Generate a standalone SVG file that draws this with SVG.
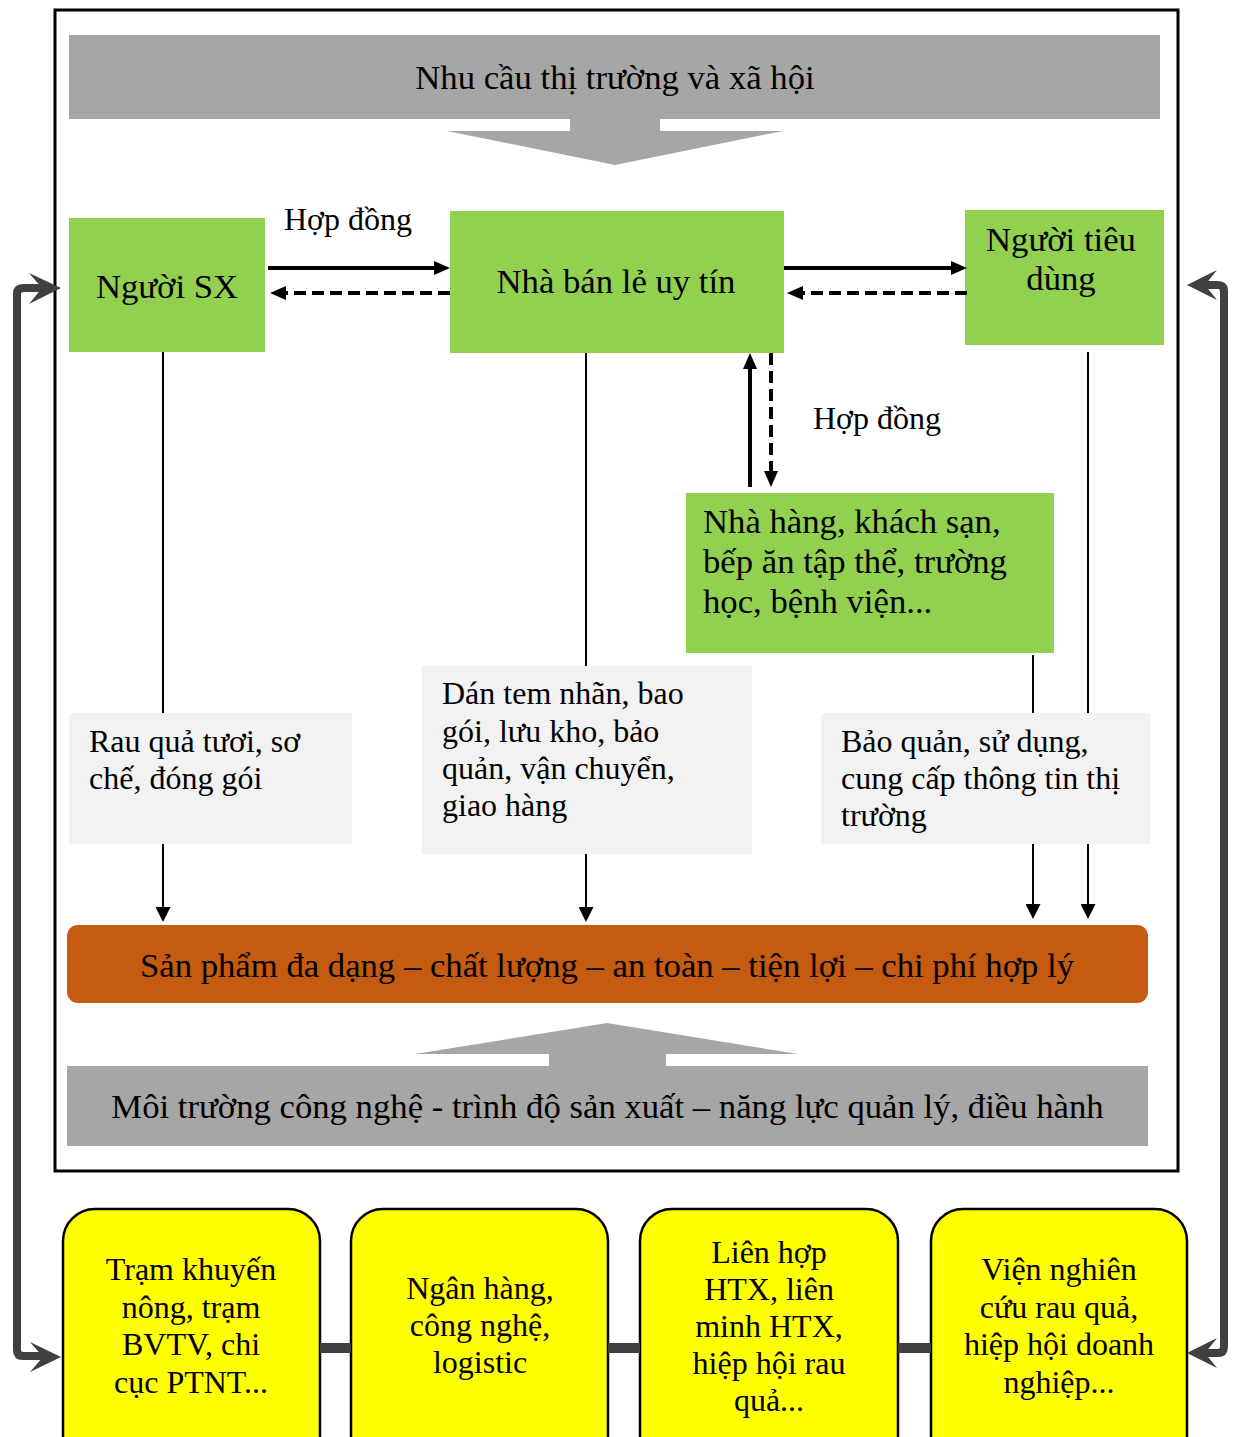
<svg xmlns="http://www.w3.org/2000/svg" width="1233" height="1437" viewBox="0 0 1233 1437">
  <style>
    text { font-family: "Liberation Serif", "Times New Roman", serif; fill: #000; }
    .big { font-size: 34.7px; }
    .mid { font-size: 32px; }
    .c { text-anchor: middle; }
    .green { fill: #92d050; }
    .note { fill: #f2f2f2; }
    .band { fill: #a6a6a6; }
    .yellow { fill: #ffff00; stroke: #000; stroke-width: 2.5; }
    .solid { stroke: #000; stroke-width: 4; fill: none; }
    .dash { stroke: #000; stroke-width: 4; fill: none; stroke-dasharray: 12 6; }
    .thin { stroke: #000; stroke-width: 2; fill: none; }
    .loop { stroke: #404040; stroke-width: 8; fill: none; }
    .link { stroke: #404040; stroke-width: 10; }
    .loophead { fill: #404040; }
  </style>
  <defs>
    <marker id="head" markerUnits="userSpaceOnUse" markerWidth="16" markerHeight="14" refX="4" refY="7" orient="auto">
      <path d="M0,0 L16,7 L0,14 z" fill="#000"/>
    </marker>
    <marker id="headThin" markerUnits="userSpaceOnUse" markerWidth="15" markerHeight="15" refX="3" refY="7.5" orient="auto">
      <path d="M0,0 L15,7.5 L0,15 z" fill="#000"/>
    </marker>
  </defs>

  <rect width="1233" height="1437" fill="#fff"/>

  <!-- outer frame -->
  <rect x="55" y="10" width="1123" height="1161" fill="none" stroke="#000" stroke-width="3"/>

  <!-- top band with downward arrow -->
  <g id="market-demand">
    <rect class="band" x="69" y="35" width="1091" height="84"/>
    <polygon class="band" points="570,119 660,119 660,131 783,131 615,165 447,131 570,131"/>
    <text class="big c" x="615" y="89">Nhu cầu thị trường và xã hội</text>
  </g>

  <!-- main actors -->
  <g id="producer">
    <rect class="green" x="69" y="218" width="196" height="134"/>
    <text class="big c" x="167" y="298">Người SX</text>
  </g>
  <g id="retailer">
    <rect class="green" x="450" y="211" width="334" height="142"/>
    <text class="big c" x="616" y="293">Nhà bán lẻ uy tín</text>
  </g>
  <g id="consumer">
    <rect class="green" x="965" y="210" width="199" height="135"/>
    <text class="big c" x="1061" y="251">Người tiêu</text>
    <text class="big c" x="1061" y="290">dùng</text>
  </g>
  <g id="institutions">
    <rect class="green" x="686" y="493" width="368" height="160"/>
    <text class="big" x="703" y="533">Nhà hàng, khách sạn,</text>
    <text class="big" x="703" y="573">bếp ăn tập thể, trường</text>
    <text class="big" x="703" y="613">học, bệnh viện...</text>
  </g>

  <!-- activity notes -->
  <g id="note-fresh">
    <rect class="note" x="69" y="713" width="283" height="131"/>
    <text class="mid" x="89" y="752">Rau quả tươi, sơ</text>
    <text class="mid" x="89" y="789">chế, đóng gói</text>
  </g>
  <g id="note-logistics">
    <rect class="note" x="422" y="666" width="330" height="188"/>
    <text class="mid" x="442" y="704">Dán tem nhãn, bao</text>
    <text class="mid" x="442" y="742">gói, lưu kho, bảo</text>
    <text class="mid" x="442" y="779">quản, vận chuyển,</text>
    <text class="mid" x="442" y="816">giao hàng</text>
  </g>
  <g id="note-usage">
    <rect class="note" x="821" y="713" width="329" height="131"/>
    <text class="mid" x="841" y="752">Bảo quản, sử dụng,</text>
    <text class="mid" x="841" y="789">cung cấp thông tin thị</text>
    <text class="mid" x="841" y="826">trường</text>
  </g>

  <!-- product outcome -->
  <g id="product">
    <rect x="67" y="925" width="1081" height="78" rx="11" fill="#c55a11"/>
    <text class="big c" x="607" y="977">Sản phẩm đa dạng – chất lượng – an toàn – tiện lợi – chi phí hợp lý</text>
  </g>

  <!-- bottom band with upward arrow -->
  <g id="environment">
    <polygon class="band" points="549,1066 549,1054 415,1054 607,1023 798,1054 666,1054 666,1066"/>
    <rect class="band" x="67" y="1066" width="1081" height="80"/>
    <text class="big c" x="607.5" y="1118">Môi trường công nghệ - trình độ sản xuất – năng lực quản lý, điều hành</text>
  </g>

  <!-- support organisations -->
  <g id="extension">
    <rect class="yellow" x="63" y="1209" width="257" height="260" rx="32"/>
    <text class="mid c" x="191" y="1280">Trạm khuyến</text>
    <text class="mid c" x="191" y="1318">nông, trạm</text>
    <text class="mid c" x="191" y="1355">BVTV, chi</text>
    <text class="mid c" x="191" y="1393">cục PTNT...</text>
  </g>
  <g id="bank">
    <rect class="yellow" x="351" y="1209" width="257" height="260" rx="32"/>
    <text class="mid c" x="480" y="1299">Ngân hàng,</text>
    <text class="mid c" x="480" y="1336">công nghệ,</text>
    <text class="mid c" x="480" y="1373">logistic</text>
  </g>
  <g id="cooperatives">
    <rect class="yellow" x="640" y="1209" width="258" height="260" rx="32"/>
    <text class="mid c" x="769" y="1263">Liên hợp</text>
    <text class="mid c" x="769" y="1300">HTX, liên</text>
    <text class="mid c" x="769" y="1337">minh HTX,</text>
    <text class="mid c" x="769" y="1374">hiệp hội rau</text>
    <text class="mid c" x="769" y="1411">quả...</text>
  </g>
  <g id="research">
    <rect class="yellow" x="931" y="1209" width="256" height="260" rx="32"/>
    <text class="mid c" x="1059" y="1280">Viện nghiên</text>
    <text class="mid c" x="1059" y="1318">cứu rau quả,</text>
    <text class="mid c" x="1059" y="1355">hiệp hội doanh</text>
    <text class="mid c" x="1059" y="1393">nghiệp...</text>
  </g>

  <!-- connectors -->
  <g id="connectors">
    <!-- producer <-> retailer -->
    <line class="solid" x1="268" y1="268" x2="438" y2="268" marker-end="url(#head)"/>
    <line class="dash" x1="450" y1="293" x2="282" y2="293" marker-end="url(#head)"/>
    <text class="mid" x="284" y="230">Hợp đồng</text>

    <!-- retailer <-> consumer -->
    <line class="solid" x1="784" y1="268" x2="955" y2="268" marker-end="url(#head)"/>
    <line class="dash" x1="967" y1="293" x2="799" y2="293" marker-end="url(#head)"/>

    <!-- retailer <-> institutions -->
    <line class="solid" x1="750" y1="487" x2="750" y2="365" marker-end="url(#head)"/>
    <line class="dash" x1="771" y1="353" x2="771" y2="475" marker-end="url(#head)"/>
    <text class="mid" x="813" y="429">Hợp đồng</text>

    <!-- flows down to product -->
    <line class="thin" x1="163" y1="352" x2="163" y2="713"/>
    <line class="thin" x1="163" y1="844" x2="163" y2="910" marker-end="url(#headThin)"/>
    <line class="thin" x1="586" y1="353" x2="586" y2="666"/>
    <line class="thin" x1="586" y1="854" x2="586" y2="910" marker-end="url(#headThin)"/>
    <line class="thin" x1="1033" y1="655" x2="1033" y2="713"/>
    <line class="thin" x1="1033" y1="844" x2="1033" y2="907" marker-end="url(#headThin)"/>
    <line class="thin" x1="1088" y1="352" x2="1088" y2="713"/>
    <line class="thin" x1="1088" y1="844" x2="1088" y2="907" marker-end="url(#headThin)"/>

    <!-- links between support organisations -->
    <line class="link" x1="320" y1="1348" x2="351" y2="1348"/>
    <line class="link" x1="608" y1="1348" x2="640" y2="1348"/>
    <line class="link" x1="898" y1="1348" x2="931" y2="1348"/>

    <!-- left feedback loop -->
    <path class="loop" d="M44,288 H23 Q17,288 17,294 V1350 Q17,1356 23,1356 H44"/>
    <polygon class="loophead" points="61,288 29,273 42,288 29,304"/>
    <polygon class="loophead" points="61,1357 30,1342 43,1357 30,1372"/>

    <!-- right feedback loop -->
    <path class="loop" d="M1204,285 H1218 Q1224,285 1224,291 V1347 Q1224,1353 1218,1353 H1204"/>
    <polygon class="loophead" points="1187,285 1217,270 1205,285 1217,300"/>
    <polygon class="loophead" points="1187,1353 1217,1338 1205,1353 1217,1368"/>
  </g>
</svg>
